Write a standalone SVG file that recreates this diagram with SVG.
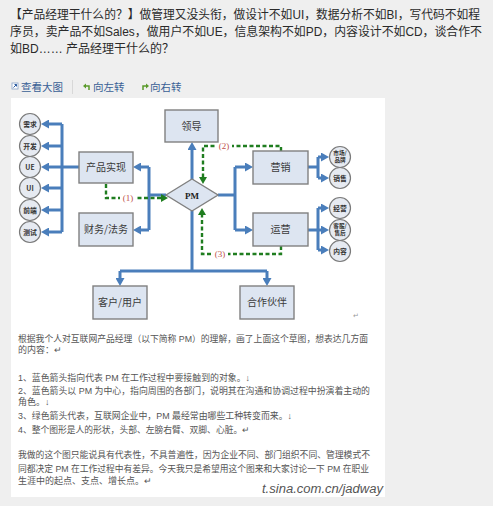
<svg xmlns="http://www.w3.org/2000/svg" width="493" height="506" viewBox="0 0 493 506">
<style>
.hd{font-family:"Liberation Sans","Noto Sans CJK SC",sans-serif;font-size:12px;fill:#2a2a2a}
.lk{font-family:"Liberation Sans","Noto Sans CJK SC",sans-serif;font-size:10.5px;fill:#3a5f96}
.bx{fill:#dde5f1;stroke:#808080;stroke-width:1.4}
.ci{fill:#e6eaf1;stroke:#7a7a7a;stroke-width:1.2}
.bt{font-family:"Noto Sans CJK SC",sans-serif;font-size:10px;fill:#3a3a3a;text-anchor:middle}
.ct{font-family:"Noto Sans CJK SC",sans-serif;font-size:6.8px;fill:#333;text-anchor:middle;font-weight:bold}
.c2{font-family:"Noto Sans CJK SC",sans-serif;font-size:5.6px;fill:#333;text-anchor:middle;font-weight:bold}
.bl{fill:none;stroke:#4a7ebb;stroke-width:3}
.ba{fill:none;stroke:#4a7ebb;stroke-width:3;marker-end:url(#ab)}
.gr{fill:none;stroke:#1f7d1f;stroke-width:2.4;stroke-dasharray:4 2.5;marker-end:url(#ag)}
.lb{font-family:"Liberation Serif",serif;font-size:9px;fill:#c0504d;text-anchor:middle}
.tx{font-family:"Liberation Sans","Noto Sans CJK SC",sans-serif;font-size:9px;fill:#555}
</style>
<defs>
<marker id="ab" markerWidth="8" markerHeight="9" refX="2" refY="4.5" orient="auto" markerUnits="userSpaceOnUse"><path d="M0,0 L8,4.5 L0,9 Z" fill="#4a7ebb"/></marker>
<marker id="ag" markerWidth="7" markerHeight="8" refX="1" refY="4" orient="auto" markerUnits="userSpaceOnUse"><path d="M0,0 L7,4 L0,8 Z" fill="#1f7d1f"/></marker>
</defs>
<rect width="493" height="506" fill="#efefef"/>
<g id="header">
<text class="hd" x="10" y="19" textLength="470" lengthAdjust="spacingAndGlyphs">【产品经理干什么的？】做管理又没头衔，做设计不如UI，数据分析不如BI，写代码不如程</text>
<text class="hd" x="10" y="36" textLength="472" lengthAdjust="spacingAndGlyphs">序员，卖产品不如Sales，做用户不如UE，信息架构不如PD，内容设计不如CD，谈合作不</text>
<text class="hd" x="10" y="53">如BD…… 产品经理干什么的？</text>
</g>
<g id="links">
<rect x="12" y="83" width="6" height="6" fill="#fff" stroke="#8aa4c8" stroke-width="0.8"/>
<path d="M13.5,87.5 L16.5,84.5 M14.5,84.5 H16.5 V86.5" stroke="#2a5aa0" stroke-width="1" fill="none"/>
<text class="lk" x="21" y="91">查看大图</text>
<line x1="72.5" y1="80" x2="72.5" y2="94" stroke="#d8d8d8"/>
<path d="M89,90 V86 H85" stroke="#5a9a2a" stroke-width="1.5" fill="none"/>
<path d="M83,86 L86,83.5 V88.5 Z" fill="#5a9a2a"/>
<text class="lk" x="93" y="91">向左转</text>
<path d="M143,90 V86 H147" stroke="#5a9a2a" stroke-width="1.5" fill="none"/>
<path d="M149,86 L146,83.5 V88.5 Z" fill="#5a9a2a"/>
<text class="lk" x="150" y="91">向右转</text>
</g>
<rect x="11" y="98" width="374" height="399" fill="#ffffff"/>
<g id="connectors">
<path class="bl" d="M62,124 V232 M62,167 H79"/>
<path class="ba" d="M62,124 H47"/>
<path class="ba" d="M62,146 H47"/>
<path class="ba" d="M62,167 H47"/>
<path class="ba" d="M62,188 H47"/>
<path class="ba" d="M62,210 H47"/>
<path class="ba" d="M62,232 H47"/>
<path class="bl" d="M149,167 V230 M149,195 H166"/>
<path class="ba" d="M149,167 H139"/>
<path class="ba" d="M149,230 H139"/>
<path class="ba" d="M192,180 V148"/>
<path class="bl" d="M192,211 V271 M120,271 H267"/>
<path class="ba" d="M120,271 V280"/>
<path class="ba" d="M267,271 V280"/>
<path class="bl" d="M218,195 H235 M235,167 V230"/>
<path class="ba" d="M235,167 H247"/>
<path class="ba" d="M235,230 H247"/>
<path class="bl" d="M308,167 H318 M318,157 V178"/>
<path class="ba" d="M318,157 H323"/>
<path class="ba" d="M318,178 H323"/>
<path class="bl" d="M308,230 H318 M318,208 V250"/>
<path class="ba" d="M318,208 H323"/>
<path class="ba" d="M318,230 H323"/>
<path class="ba" d="M318,250 H323"/>
<path class="gr" d="M106,184 V198 H162"/>
<path class="gr" d="M281,151 V146 H203 V178"/>
<path class="gr" d="M281,246 V254 H202 V214"/>
<rect x="120" y="192" width="16" height="11" fill="#fff"/>
<text class="lb" x="128" y="201">(1)</text>
<rect x="216" y="140" width="16" height="11" fill="#fff"/>
<text class="lb" x="224" y="149">(2)</text>
<rect x="212" y="248" width="16" height="11" fill="#fff"/>
<text class="lb" x="220" y="257">(3)</text>
</g>
<g id="n-lingdao"><rect class="bx" x="165" y="110" width="53" height="32"/><text class="bt" x="191.5" y="129.5">领导</text></g>
<g id="n-chanpin"><rect class="bx" x="79" y="152" width="54" height="31"/><text class="bt" x="106" y="171">产品实现</text></g>
<g id="n-caiwu"><rect class="bx" x="79" y="213" width="54" height="33"/><text class="bt" x="106" y="233">财务/法务</text></g>
<g id="n-pm"><path class="bx" d="M166,195 L192,179 L218,195 L192,211 Z"/><text x="192" y="198.5" text-anchor="middle" font-family="Liberation Serif,serif" font-weight="bold" font-size="9" fill="#222">PM</text></g>
<g id="n-yingxiao"><rect class="bx" x="253" y="151" width="55" height="33"/><text class="bt" x="280.5" y="171">营销</text></g>
<g id="n-yunying"><rect class="bx" x="253" y="213" width="55" height="33"/><text class="bt" x="280.5" y="233">运营</text></g>
<g id="n-kehu"><rect class="bx" x="93" y="286" width="54" height="33"/><text class="bt" x="120" y="306">客户/用户</text></g>
<g id="n-hezuo"><rect class="bx" x="240" y="286" width="54" height="33"/><text class="bt" x="267" y="306">合作伙伴</text></g>
<g id="n-xuqiu"><circle class="ci" cx="30" cy="124" r="10.5"/><text class="ct" x="30" y="126.5">需求</text></g>
<g id="n-kaifa"><circle class="ci" cx="30" cy="146" r="10.5"/><text class="ct" x="30" y="148.5">开发</text></g>
<g id="n-ue"><circle class="ci" cx="30" cy="167" r="10.5"/><text class="ct" x="30" y="169.5" font-family="Liberation Serif,serif">UE</text></g>
<g id="n-ui"><circle class="ci" cx="30" cy="188" r="10.5"/><text class="ct" x="30" y="190.5" font-family="Liberation Serif,serif">UI</text></g>
<g id="n-qianduan"><circle class="ci" cx="30" cy="210" r="10.5"/><text class="ct" x="30" y="212.5">前端</text></g>
<g id="n-ceshi"><circle class="ci" cx="30" cy="232" r="10.5"/><text class="ct" x="30" y="234.5">测试</text></g>
<g id="n-shichang"><circle class="ci" cx="340" cy="157" r="10.5"/><text class="c2" x="340" y="155"><tspan x="340" y="154.5">市场/</tspan><tspan x="340" y="162">品牌</tspan></text></g>
<g id="n-xiaoshou"><circle class="ci" cx="340" cy="178" r="10.5"/><text class="ct" x="340" y="180.5">销售</text></g>
<g id="n-jingying"><circle class="ci" cx="340" cy="208" r="10.5"/><text class="ct" x="340" y="210.5">经营</text></g>
<g id="n-kefu"><circle class="ci" cx="340" cy="230" r="10.5"/><text class="c2" x="340" y="228"><tspan x="340" y="227.5">客服/</tspan><tspan x="340" y="235">售后</tspan></text></g>
<g id="n-neirong"><circle class="ci" cx="340" cy="251" r="10.5"/><text class="ct" x="340" y="253.5">内容</text></g>
<text x="353" y="318" font-family="DejaVu Sans,sans-serif" font-size="7" fill="#999">↵</text>
<g id="body">
<text class="tx" x="18" y="341.5" textLength="350" lengthAdjust="spacingAndGlyphs">根据我个人对互联网产品经理（以下简称 PM）的理解，画了上面这个草图，想表达几方面</text>
<text class="tx" x="18" y="352.5">的内容：↵</text>
<text class="tx" x="18" y="380.5" textLength="232" lengthAdjust="spacingAndGlyphs">1、蓝色箭头指向代表 PM 在工作过程中要接触到的对象。↓</text>
<text class="tx" x="18" y="393.5" textLength="352" lengthAdjust="spacingAndGlyphs">2、蓝色箭头以 PM 为中心，指向周围的各部门，说明其在沟通和协调过程中扮演着主动的</text>
<text class="tx" x="18" y="404.5">角色。↓</text>
<text class="tx" x="18" y="418.5" textLength="274" lengthAdjust="spacingAndGlyphs">3、绿色箭头代表，互联网企业中，PM 最经常由哪些工种转变而来。↓</text>
<text class="tx" x="18" y="432.5" textLength="232" lengthAdjust="spacingAndGlyphs">4、整个图形是人的形状，头部、左膀右臂、双脚、心脏。↵</text>
<text class="tx" x="18" y="457.5" textLength="352" lengthAdjust="spacingAndGlyphs">我做的这个图只能说具有代表性，不具普遍性，因为企业不同、部门组织不同、管理模式不</text>
<text class="tx" x="18" y="471.5" textLength="351" lengthAdjust="spacingAndGlyphs">同都决定 PM 在工作过程中有差异。今天我只是希望用这个图来和大家讨论一下 PM 在职业</text>
<text class="tx" x="18" y="483.5">生涯中的起点、支点、增长点。↵</text>
<text x="262" y="493" textLength="121" lengthAdjust="spacingAndGlyphs" font-family="Liberation Sans,sans-serif" font-style="italic" font-size="12" fill="#555" stroke="#fff" stroke-width="1.5" paint-order="stroke">t.sina.com.cn/jadway</text>
</g>
</svg>
